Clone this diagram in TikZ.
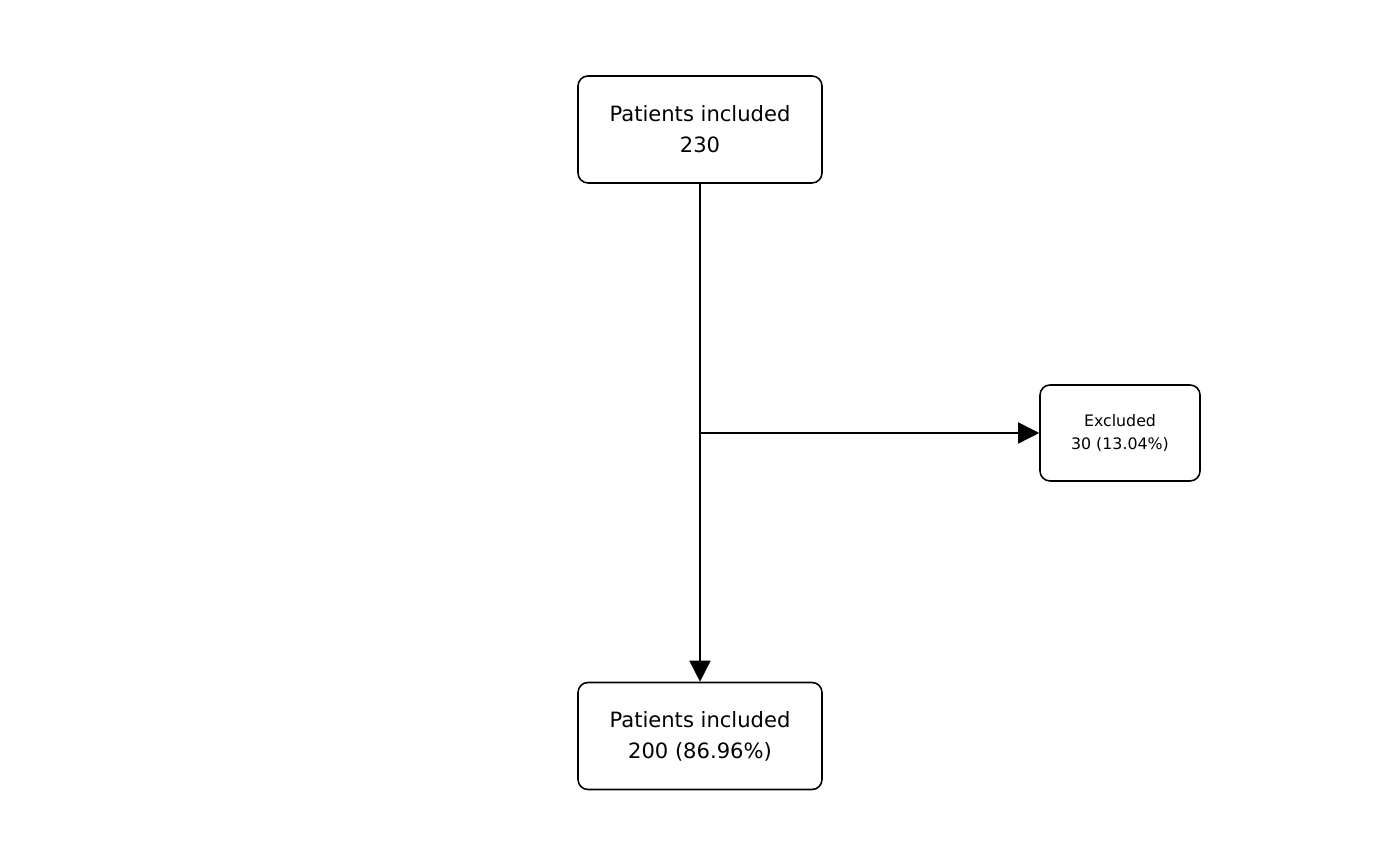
\documentclass[tikz,border=0pt]{standalone}
\usepackage{fontspec}
\setmainfont{DejaVu Sans}
\usetikzlibrary{arrows.meta}
\begin{document}
\begin{tikzpicture}[
        box/.style={rectangle, rounded corners=0.1cm, draw=black, line width=0.45pt, minimum width=2.44cm, minimum height=1.07cm, align=center, font=\fontsize{6}{8.8}\selectfont},
        side/.style={rectangle, rounded corners=0.1cm, draw=black, line width=0.45pt, minimum width=1.6cm, minimum height=0.96cm, align=center, font=\fontsize{4.5}{6.8}\selectfont},
        arrow/.style={-{Triangle[length=6pt, width=6pt]}, line width=0.45pt}
    ]
    \useasboundingbox (0,0) rectangle (14,8.66);

    % Boxes
    \node[box] (top) at (7,7.365) {Patients included\\230};
    \node[box] (bottom) at (7,1.30) {Patients included\\200 (86.96\%)};
    \node[side] (excl) at (11.20,4.33) {Excluded\\30 (13.04\%)};
    \coordinate (split) at (7,4.33);

    % Flow
    \draw[arrow] (top) -- (bottom);
    \draw[arrow] (split) -- (excl);

\end{tikzpicture}
\end{document}
